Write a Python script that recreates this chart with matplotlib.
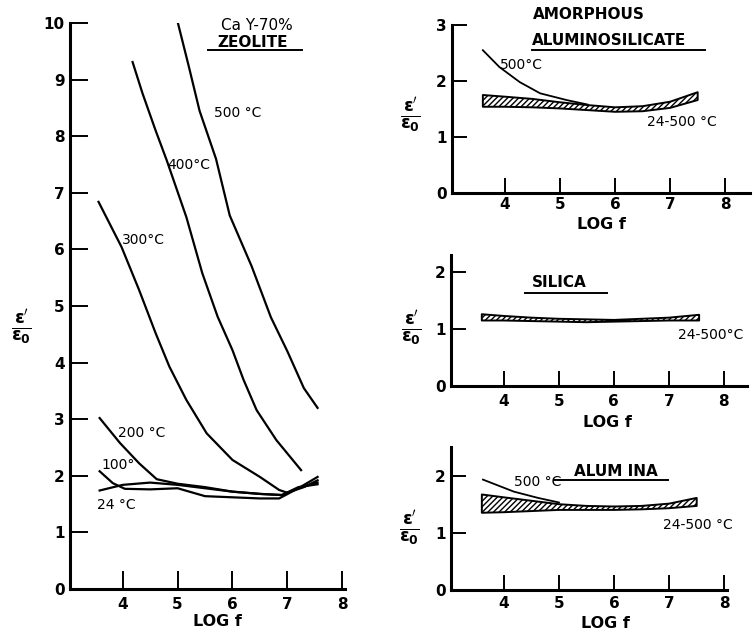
import matplotlib
matplotlib.use("Agg")
import matplotlib.pyplot as plt

plt.rcParams['font.family'] = ['DejaVu Sans']
plt.rcParams['hatch.linewidth'] = 1.0
plt.rcParams['mathtext.fontset'] = 'dejavusans'

# ---------------- data ----------------
xticks = [4, 5, 6, 7, 8]

# CaY-70% zeolite
z500_x = [4.98, 5.2, 5.4, 5.7, 5.95, 6.35, 6.7, 7.0, 7.3, 7.55]
z500_y = [10.1, 9.25, 8.45, 7.6, 6.6, 5.7, 4.8, 4.2, 3.55, 3.2]
z400_x = [4.18, 4.36, 4.6, 4.8, 5.16, 5.45, 5.73, 6.0, 6.2, 6.44, 6.8, 7.25]
z400_y = [9.31, 8.76, 8.1, 7.58, 6.57, 5.58, 4.81, 4.22, 3.7, 3.16, 2.63, 2.1]
z300_x = [3.56, 3.98, 4.3, 4.6, 4.85, 5.16, 5.53, 6.0, 6.5, 6.85, 7.0, 7.3, 7.55]
z300_y = [6.84, 6.04, 5.28, 4.52, 3.93, 3.34, 2.75, 2.28, 1.98, 1.75, 1.70, 1.8, 1.92]
z200_x = [3.58, 3.95, 4.3, 4.62, 5.0, 5.5, 6.0, 6.5, 6.9, 7.2, 7.55]
z200_y = [3.02, 2.58, 2.22, 1.94, 1.86, 1.8, 1.72, 1.68, 1.66, 1.78, 1.98]
z100_x = [3.58, 3.82, 4.04, 4.5, 5.0, 5.5, 6.0, 6.5, 6.85, 7.2, 7.55]
z100_y = [2.08, 1.87, 1.77, 1.76, 1.78, 1.64, 1.62, 1.6, 1.6, 1.78, 1.88]
z24_x = [3.58, 4.0, 4.5, 5.0, 5.5, 6.0, 6.5, 6.9, 7.2, 7.55]
z24_y = [1.74, 1.84, 1.88, 1.84, 1.78, 1.72, 1.68, 1.66, 1.8, 1.85]

# amorphous aluminosilicate
a500_x = [3.6, 3.9, 4.27, 4.64, 5.12, 5.5]
a500_y = [2.55, 2.25, 1.98, 1.78, 1.66, 1.58]
a_band_x = [3.6, 4.0, 4.5, 5.0, 5.5, 6.0, 6.5, 7.0, 7.5]
a_band_top = [1.75, 1.72, 1.68, 1.62, 1.57, 1.53, 1.55, 1.63, 1.80]
a_band_bot = [1.54, 1.54, 1.53, 1.51, 1.48, 1.45, 1.46, 1.52, 1.66]

# silica
s_band_x = [3.6, 4.0, 4.5, 5.0, 5.5, 6.0, 6.5, 7.0, 7.55]
s_band_top = [1.26, 1.23, 1.2, 1.18, 1.17, 1.16, 1.18, 1.2, 1.25]
s_band_bot = [1.15, 1.15, 1.14, 1.13, 1.12, 1.13, 1.14, 1.15, 1.15]

# alumina
al500_x = [3.62, 4.18, 4.62, 5.0]
al500_y = [1.93, 1.72, 1.61, 1.53]
al_band_x = [3.6, 4.0, 4.5, 5.0, 5.5, 6.0, 6.5, 7.0, 7.5]
al_band_top = [1.67, 1.62, 1.56, 1.5, 1.47, 1.46, 1.47, 1.51, 1.61]
al_band_bot = [1.35, 1.36, 1.38, 1.4, 1.4, 1.4, 1.41, 1.43, 1.47]

# ---------------- figure ----------------
W, H = 756, 631
fig = plt.figure(figsize=(W / 100, H / 100), dpi=100)


def make_ax(x0, x1, y0px, ytop_px, xlim, ylim, yticks, ticklen, xpad):
    ax = fig.add_axes([x0 / W, (H - y0px) / H, (x1 - x0) / W, (y0px - ytop_px) / H])
    ax.set_xlim(*xlim)
    ax.set_ylim(*ylim)
    for s in ['top', 'right']:
        ax.spines[s].set_visible(False)
    for s in ['left', 'bottom']:
        ax.spines[s].set_linewidth(2.2)
    ax.set_xticks(xticks)
    ax.set_yticks(yticks)
    ax.tick_params(direction='in', length=ticklen, width=1.4, labelsize=11, pad=4)
    ax.tick_params(axis='x', pad=xpad)
    for lab in ax.get_xticklabels() + ax.get_yticklabels():
        lab.set_fontweight('bold')
    ax.patch.set_alpha(0)
    return ax


def ylab(ax, x, y, fs=18):
    ax.text(x, y, r"$\mathbf{\frac{\epsilon'}{\epsilon_0}}$", transform=ax.transAxes,
            ha='center', va='center', fontsize=fs)


def xlab(ax, x, y):
    ax.text(x, y, "LOG f", transform=ax.transAxes, ha='center', va='center',
            fontsize=11.5, fontweight='bold')


def underline(ax, xa, xb, y):
    ax.plot([xa, xb], [y, y], color='black', lw=1.4, clip_on=False)


lw = 1.6

# Left: zeolite
ax = make_ax(70, 345, 589, 23, (3.04, 8.05), (0, 10), range(0, 11), 13, 6)
for xs, ys in [(z500_x, z500_y), (z400_x, z400_y), (z300_x, z300_y),
               (z200_x, z200_y), (z100_x, z100_y), (z24_x, z24_y)]:
    ax.plot(xs, ys, color='black', lw=lw, clip_on=True)
ax.text(6.45, 9.96, "Ca Y-70%", ha='center', va='center', fontsize=11)
ax.text(6.36, 9.66, "ZEOLITE", ha='center', va='center', fontsize=11, fontweight='bold')
underline(ax, 5.56, 7.27, 9.52)
ax.text(5.67, 8.41, "500 °C", ha='left', va='center', fontsize=10)
ax.text(4.82, 7.49, "400°C", ha='left', va='center', fontsize=10)
ax.text(3.98, 6.17, "300°C", ha='left', va='center', fontsize=10)
ax.text(3.91, 2.76, "200 °C", ha='left', va='center', fontsize=10)
ax.text(3.62, 2.19, "100°", ha='left', va='center', fontsize=10)
ax.text(3.53, 1.48, "24 °C", ha='left', va='center', fontsize=10)
ylab(ax, -0.175, 0.463)
xlab(ax, 0.535, -0.058)

# Top right: amorphous aluminosilicate
ax = make_ax(452, 750, 193, 25, (3.04, 8.45), (0, 3), [0, 1, 2, 3], 11, 3)
ax.fill_between(a_band_x, a_band_bot, a_band_top, facecolor='white', edgecolor='black',
                hatch='//////', lw=1.4)
ax.plot(a500_x, a500_y, color='black', lw=1.3)
ax.text(4.51, 3.18, "AMORPHOUS", ha='left', va='center', fontsize=11, fontweight='bold')
ax.text(4.49, 2.72, "ALUMINOSILICATE", ha='left', va='center', fontsize=11, fontweight='bold')
underline(ax, 4.49, 7.64, 2.55)
ax.text(3.91, 2.29, "500°C", ha='left', va='center', fontsize=10)
ax.text(6.58, 1.27, "24-500 °C", ha='left', va='center', fontsize=10)
ylab(ax, -0.141, 0.464)
xlab(ax, 0.5, -0.19)

# Middle right: silica
ax = make_ax(451, 747, 386, 255, (3.04, 8.42), (0, 2.3), [0, 1, 2], 11, 6)
ax.fill_between(s_band_x, s_band_bot, s_band_top, facecolor='white', edgecolor='black',
                hatch='//////', lw=1.4)
ax.text(4.51, 1.81, "SILICA", ha='left', va='center', fontsize=11, fontweight='bold')
underline(ax, 4.38, 5.87, 1.63)
ax.text(7.16, 0.89, "24-500°C", ha='left', va='center', fontsize=10, clip_on=False)
ylab(ax, -0.132, 0.443)
xlab(ax, 0.53, -0.275)

# Bottom right: alumina
ax = make_ax(451, 727, 590, 447, (3.04, 8.05), (0, 2.5), [0, 1, 2], 11, 4)
ax.fill_between(al_band_x, al_band_bot, al_band_top, facecolor='white', edgecolor='black',
                hatch='//////', lw=1.4)
ax.plot(al500_x, al500_y, color='black', lw=1.3)
ax.text(4.18, 1.89, "500 °C", ha='left', va='center', fontsize=10)
ax.text(5.27, 2.07, "ALUM INA", ha='left', va='center', fontsize=11, fontweight='bold')
underline(ax, 4.91, 6.98, 1.93)
ax.text(6.89, 1.14, "24-500 °C", ha='left', va='center', fontsize=10)
ylab(ax, -0.152, 0.435)
xlab(ax, 0.56, -0.232)

fig.savefig("out.png", dpi=100)
